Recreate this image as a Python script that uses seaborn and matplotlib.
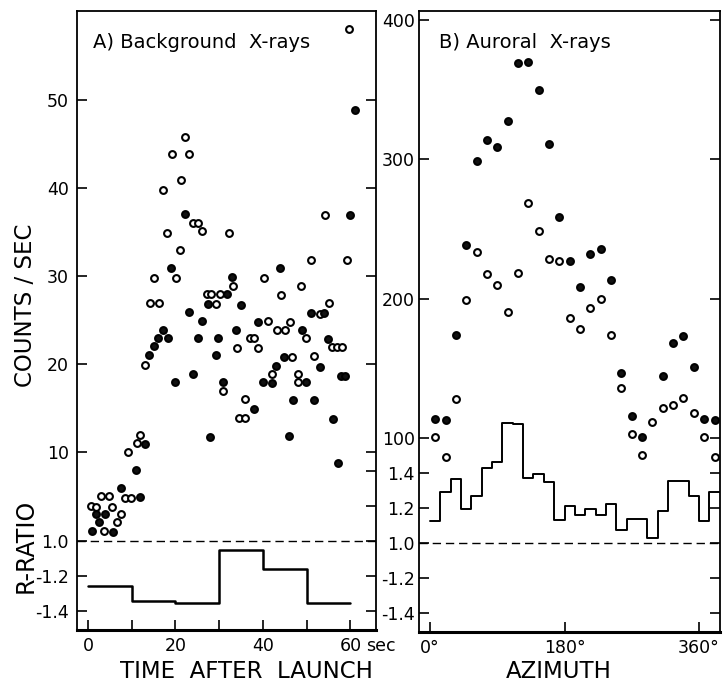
import numpy as np
import pandas as pd
import matplotlib
matplotlib.use("Agg")
import matplotlib.pyplot as plt
import seaborn as sns

# ---------------- Panel A: background X-rays vs. time after launch ----------------
a_open_t = [0.8, 1.9, 2.9, 3.7, 4.9, 5.6, 6.6, 7.5, 8.5, 9.1, 9.9, 11.1, 12.0, 13.0,
            14.2, 15.1, 16.2, 17.2, 18.1, 19.3, 20.1, 21.1, 21.2, 22.2, 23.2, 24.1,
            25.2, 26.0, 27.1, 28.1, 29.3, 30.1, 30.9, 32.2, 33.1, 34.1, 34.5, 35.8,
            36.0, 37.0, 38.0, 38.9, 40.2, 41.1, 42.1, 43.2, 44.2, 45.0, 46.1, 46.6,
            47.9, 47.9, 48.8, 49.8, 51.0, 51.6, 53.0, 54.1, 55.0, 55.7, 57.0, 58.1,
            59.1, 59.7]
a_open_c = [3.9, 3.8, 5.0, 1.0, 5.0, 3.8, 2.0, 2.9, 4.8, 10.0, 4.8, 11.0, 11.9, 19.9,
            26.9, 29.8, 26.9, 39.8, 34.9, 43.8, 29.8, 33.0, 40.9, 45.8, 43.8, 36.0,
            36.0, 35.1, 28.0, 27.9, 26.8, 27.9, 16.9, 34.9, 28.8, 21.8, 13.9, 16.0,
            13.9, 23.0, 23.0, 21.8, 29.8, 24.9, 18.8, 23.9, 27.8, 23.9, 24.8, 20.8,
            18.8, 17.9, 28.8, 22.9, 31.8, 20.9, 25.7, 36.9, 26.9, 21.9, 21.9, 21.9,
            31.8, 58.0]
a_fill_t = [0.9, 1.9, 2.5, 3.9, 5.7, 7.6, 11.0, 12.0, 13.1, 14.0, 15.1, 16.1, 17.1,
            18.2, 19.0, 19.8, 22.2, 23.1, 23.9, 25.1, 26.1, 27.4, 27.8, 29.2, 29.7,
            30.9, 31.8, 33.0, 33.9, 34.9, 37.9, 38.9, 40.0, 42.0, 43.0, 43.8, 44.8,
            46.0, 46.9, 49.0, 49.8, 50.9, 51.6, 53.1, 53.9, 54.9, 56.1, 57.1, 57.9,
            58.7, 59.8, 61.1]
a_fill_c = [1.0, 2.9, 2.0, 3.0, 0.9, 5.9, 8.0, 4.9, 10.9, 21.0, 22.0, 23.0, 23.9,
            22.9, 30.9, 17.9, 37.0, 25.9, 18.8, 22.9, 24.9, 26.8, 11.7, 21.0, 22.9,
            17.9, 27.9, 29.9, 23.9, 26.7, 14.9, 24.8, 17.9, 17.8, 19.8, 30.9, 20.8,
            11.8, 15.9, 23.8, 17.9, 25.8, 15.9, 19.7, 25.8, 22.8, 13.8, 8.7, 18.6,
            18.6, 36.9, 48.9]
# R-ratio in 10 s intervals (negative values mean 1/R below unity)
a_ratio_edges = [0, 10, 20, 30, 40, 50, 60]
a_ratio = [-1.257, -1.343, -1.356, -1.051, -1.160, -1.356]

# ---------------- Panel B: auroral X-rays vs. azimuth (26 sectors) ----------------
b_sectors = 26
b_open = [100.4, 86.4, 127.7, 199.0, 233.5, 217.7, 209.8, 190.4, 218.2, 268.5,
          248.6, 228.2, 226.8, 185.8, 177.9, 193.0, 199.7, 173.6, 135.8, 102.7,
          87.9, 111.4, 121.2, 123.3, 128.6, 118.0]
b_fill = [113.3, 112.8, 173.9, 238.7, 298.6, 313.9, 309.1, 327.6, 369.3, 369.7,
          349.6, 310.8, 258.6, 226.8, 208.1, 231.8, 235.4, 213.1, 146.6, 115.7,
          100.8, np.nan, 144.2, 168.1, 173.1, 150.9]
b_ratio = [1.126, 1.290, 1.366, 1.194, 1.270, 1.430, 1.461, 1.688, 1.680, 1.370,
           1.392, 1.350, 1.131, 1.213, 1.160, 1.192, 1.160, 1.223, 1.074, 1.135,
           1.135, 1.027, 1.185, 1.354, 1.354, 1.269]
b_wrap = 2  # sectors repeated past 360 deg

# ---------------- style ----------------
sns.set_theme(style="white", rc={
    "axes.edgecolor": "black", "axes.linewidth": 1.3,
    "xtick.color": "black", "ytick.color": "black",
    "text.color": "black", "axes.labelcolor": "black",
})
plt.rcParams["font.family"] = ["DejaVu Sans"]

TICK_FS = 12.5
MARK = dict(marker="o", s=24, edgecolor="black", linewidth=1.5, zorder=4, legend=False)
W, H = 727, 685


def ratio_fwd(r):
    r = np.asarray(r, dtype=float)
    return np.where(r >= 0, r - 1.0, r + 1.0)


def ratio_inv(y):
    y = np.asarray(y, dtype=float)
    return np.where(y >= 0, y + 1.0, y - 1.0)


fig = plt.figure(figsize=(W / 100, H / 100), dpi=100)
axA = fig.add_axes([77 / W, 1 - 630 / H, 299 / W, 619 / H])
axB = fig.add_axes([419 / W, 1 - 632 / H, 301 / W, 621 / H])

# ---- Panel A ----
sns.scatterplot(x=a_open_t, y=a_open_c, ax=axA, facecolor="white", **MARK)
sns.scatterplot(x=a_fill_t, y=a_fill_c, ax=axA, facecolor="#111111", **MARK)
axA.set_xlim(-2.51, 65.83)
axA.set_ylim(-10.23, 60.1)

rA = axA.twinx()
stepA = pd.DataFrame({"t": a_ratio_edges, "r": a_ratio + [a_ratio[-1]]})
sns.lineplot(data=stepA, x="t", y="r", ax=rA, drawstyle="steps-post", estimator=None,
             color="black", linewidth=1.8)
rA.set_yscale("function", functions=(ratio_fwd, ratio_inv))
rA.axhline(1.0, color="black", linewidth=1.0, dashes=(6, 3.5))
rA.set_ylim(-1.5086, 4.029)

# ---- Panel B ----
width = 360 / b_sectors
centers = (np.arange(b_sectors) + 0.5) * width
az = np.concatenate([centers, centers[:b_wrap] + 360])
openB = np.concatenate([b_open, b_open[:b_wrap]])
fillB = np.concatenate([b_fill, b_fill[:b_wrap]])
sns.scatterplot(x=az, y=openB, ax=axB, facecolor="white", **MARK)
sns.scatterplot(x=az, y=fillB, ax=axB, facecolor="#111111", **MARK)
axB.set_xlim(-14.72, 388.1)
axB.set_ylim(-39.5, 406.6)

rB = axB.twinx()
edgesB = np.arange(b_sectors + b_wrap + 1) * width
valsB = list(b_ratio) + list(b_ratio[:b_wrap])
stepB = pd.DataFrame({"az": edgesB, "r": valsB + [valsB[-1]]})
sns.lineplot(data=stepB, x="az", y="r", ax=rB, drawstyle="steps-post", estimator=None,
             color="black", linewidth=1.4)
rB.set_yscale("function", functions=(ratio_fwd, ratio_inv))
rB.axhline(1.0, color="black", linewidth=1.0, dashes=(6, 3.5))
rB.set_ylim(-1.5086, 4.04)

# ---- axes decoration ----
for ax, r, pad in ((axA, rA, 6.0), (axB, rB, 3.0)):
    ax.set_zorder(r.get_zorder() + 1)
    ax.patch.set_visible(False)
    for s in r.spines.values():
        s.set_visible(False)
    ax.spines["bottom"].set_linewidth(2.2)
    ax.set_xlabel("")
    ax.set_ylabel("")
    r.set_ylabel("")
    ax.tick_params(axis="y", which="major", direction="in", left=True, right=True,
                   labelleft=True, labelright=False, length=7, width=1.2,
                   labelsize=TICK_FS, pad=pad)
    ax.tick_params(axis="x", which="major", direction="in", bottom=True, top=False,
                   length=7, width=1.2, labelsize=TICK_FS, pad=5)
    r.tick_params(axis="y", which="both", direction="in", left=True, right=True,
                  labelleft=True, labelright=False, length=7, width=1.2,
                  labelsize=TICK_FS, pad=pad)

axA.set_yticks([10, 20, 30, 40, 50])
axA.set_xticks(range(0, 61, 10), ["0", "", "20", "", "40", "", "60"])
rA.set_yticks([1.0, -1.2, -1.4], ["1.0", "-1.2", "-1.4"])
rA.set_yticks([1.2, 1.4], minor=True)
rA.tick_params(axis="y", which="minor", left=False, right=True, length=7, width=1.2)

axB.set_yticks([100, 200, 300, 400])
axB.set_xticks([0, 180, 360], ["0°", "180°", "360°"])
rB.set_yticks([1.4, 1.2, 1.0, -1.2, -1.4], ["1.4", "1.2", "1.0", "-1.2", "-1.4"])
rB.set_yticks([], minor=True)

axA.annotate("sec", xy=(60, 0), xycoords=("data", "axes fraction"), xytext=(11, -5),
             textcoords="offset points", ha="left", va="top", fontsize=TICK_FS)

# ---- titles and axis labels ----
fig.text(93 / W, 1 - 43 / H, "A) Background  X-rays", ha="left", va="center", fontsize=14)
fig.text(439 / W, 1 - 43 / H, "B) Auroral  X-rays", ha="left", va="center", fontsize=14)
fig.text(26 / W, 1 - 305 / H, "COUNTS / SEC", rotation=90, ha="center", va="center",
         fontsize=16.5)
fig.text(26 / W, 1 - 546 / H, "R-RATIO", rotation=90, ha="center", va="center",
         fontsize=17)
fig.text(246 / W, 1 - 671 / H, "TIME  AFTER  LAUNCH", ha="center", va="center",
         fontsize=16.5)
fig.text(559 / W, 1 - 672 / H, "AZIMUTH", ha="center", va="center", fontsize=16.5)

fig.savefig("out.png", dpi=100, facecolor="white")
